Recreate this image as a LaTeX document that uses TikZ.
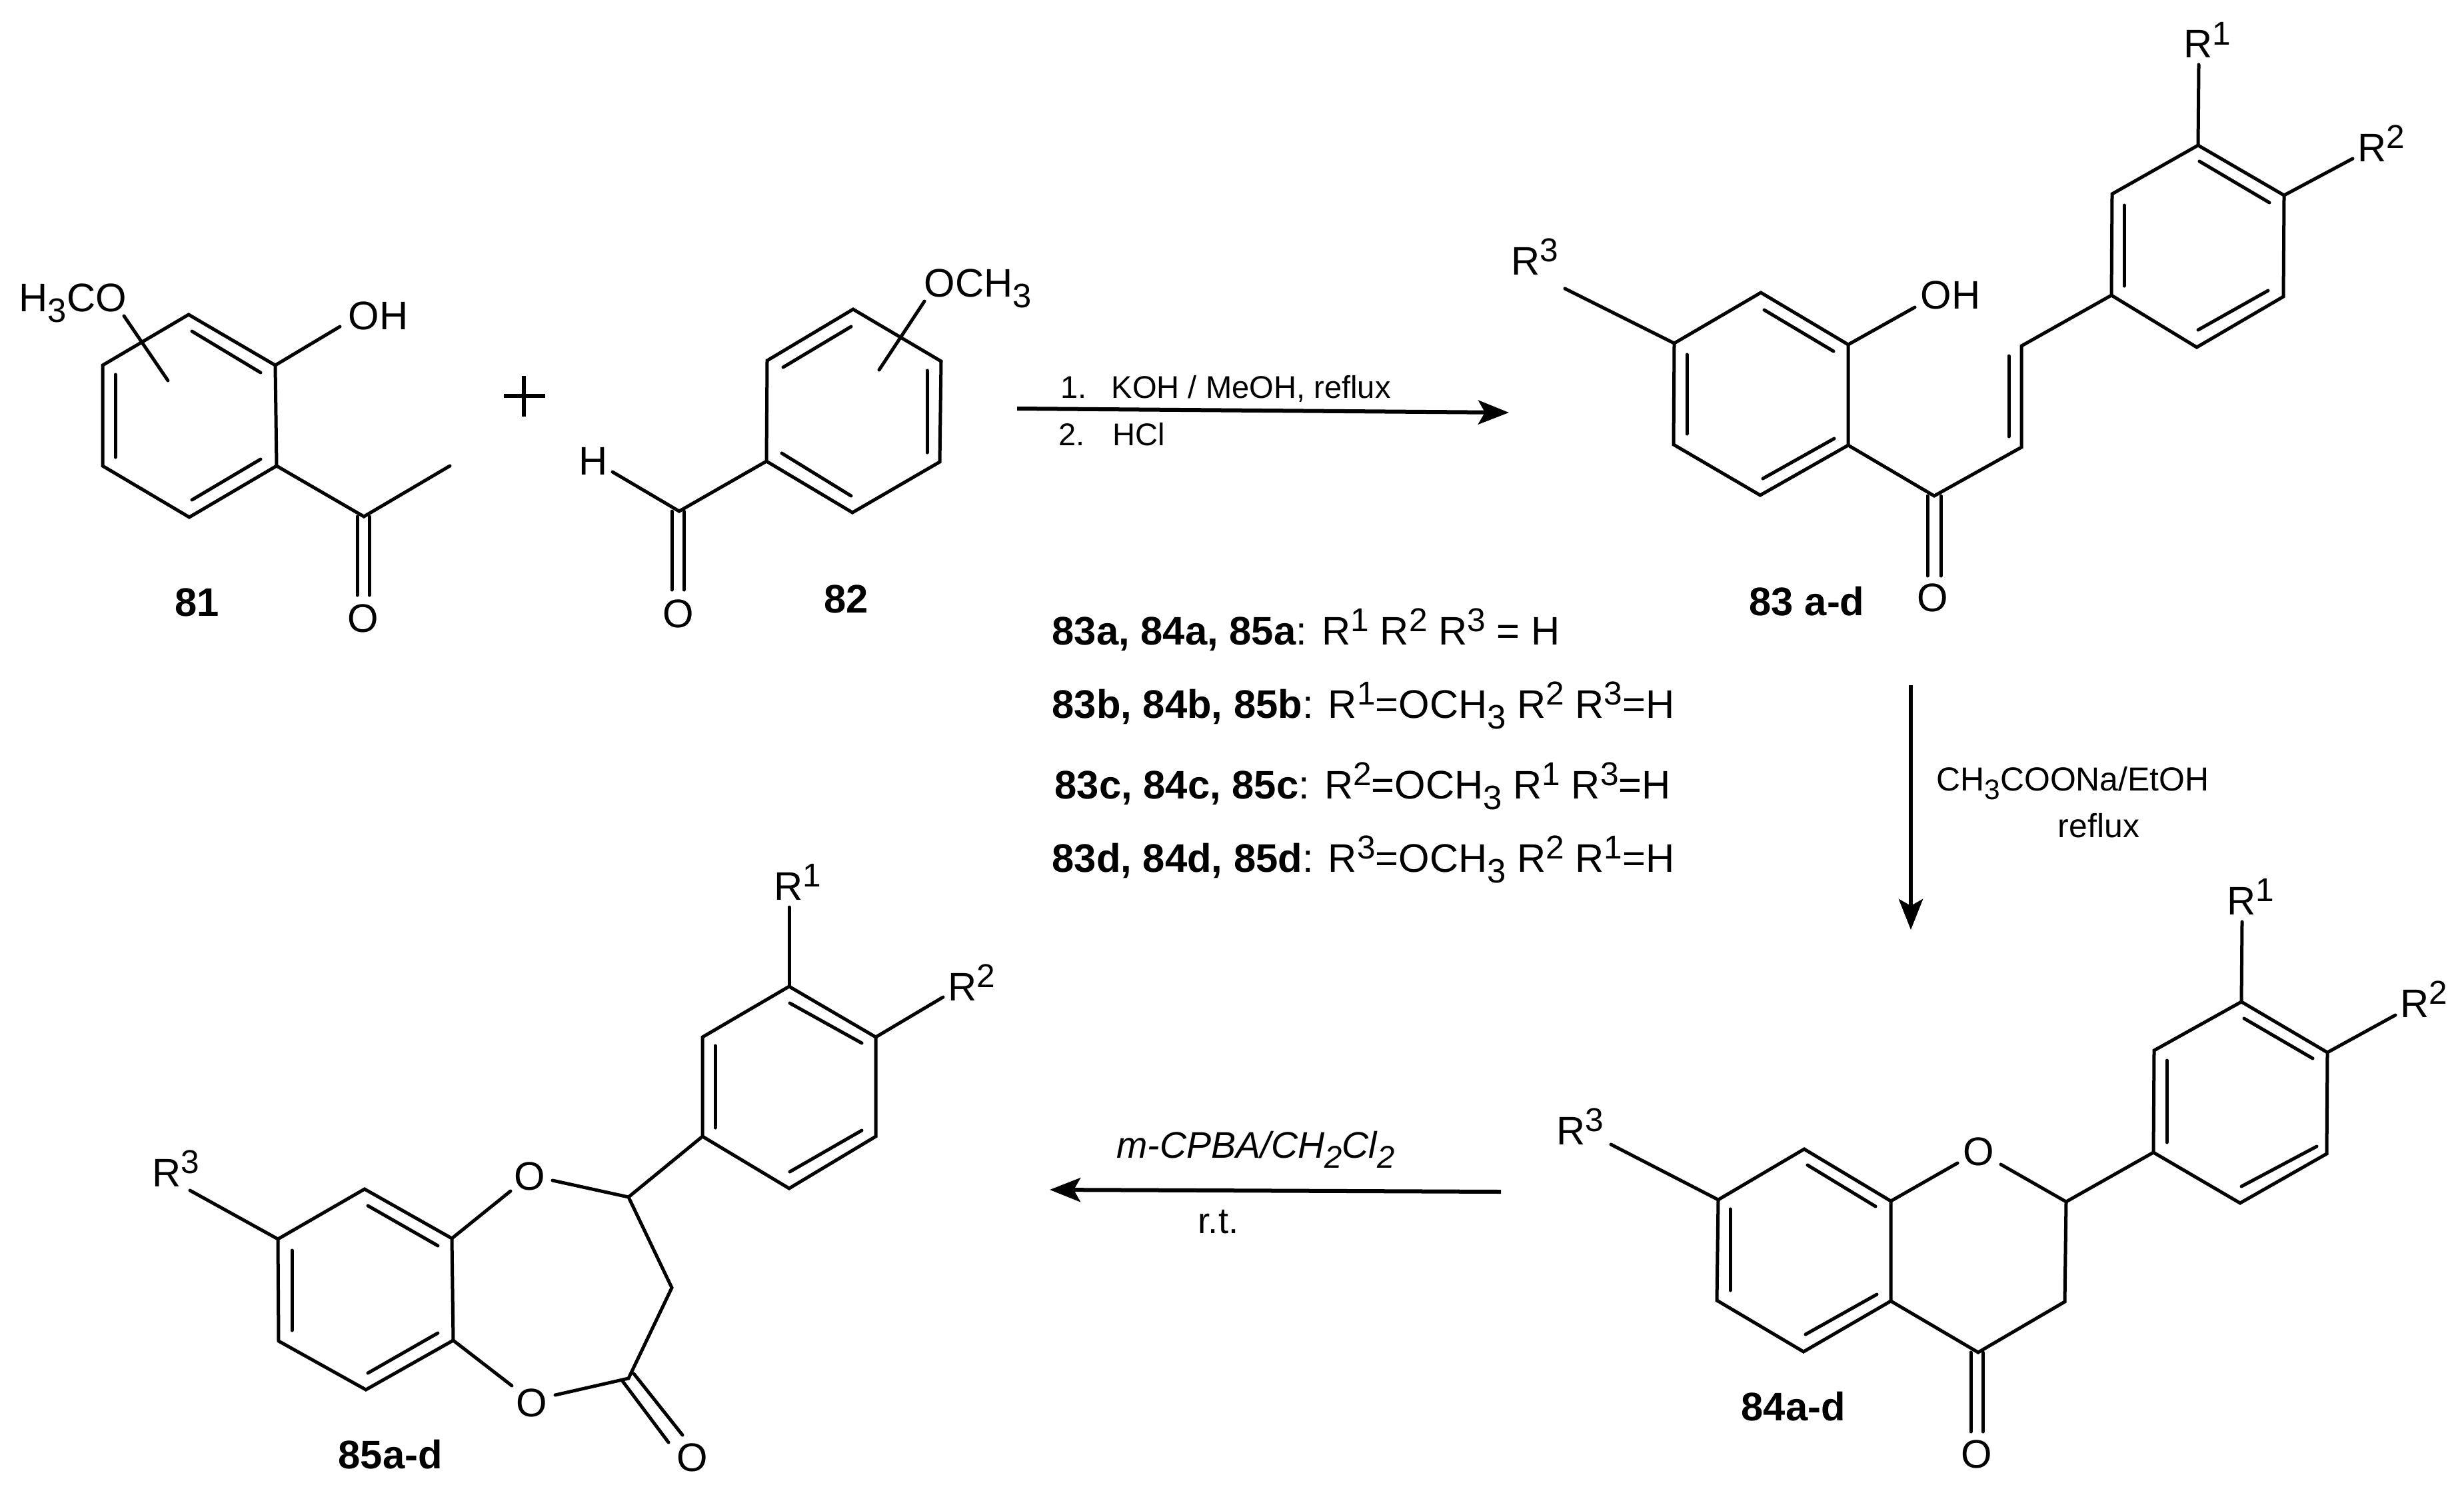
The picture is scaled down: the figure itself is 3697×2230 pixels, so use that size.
\documentclass[tikz,border=0pt]{standalone}
\usepackage{graphicx}
\usepackage{fontspec}
\setmainfont{Liberation Sans}
\usetikzlibrary{arrows.meta}
\newcommand{\Rs}[1]{R\raisebox{.32em}{\scalebox{.83}{#1}}}
\newcommand{\Sb}[1]{\raisebox{-.28em}{\scalebox{.85}{#1}}}
\tikzset{
  bond/.style={line width=.05cm,line cap=round},
  rxnarrow/.style={line width=.06cm,-{Stealth[length=.46cm,width=.36cm,inset=.1cm]}},
  atom/.style={font=\fontsize{17}{17}\selectfont,inner sep=0pt,anchor=base},
  rlabel/.style={atom,anchor=base west},
  tag/.style={font=\fontsize{17}{17}\selectfont\bfseries,inner sep=0pt,anchor=base west},
  reagent/.style={font=\fontsize{13.4}{16}\selectfont,inner sep=0pt,anchor=base west},
  reagentb/.style={font=\fontsize{14.2}{16}\selectfont,inner sep=0pt,anchor=base},
  reagentc/.style={font=\fontsize{15.8}{16}\selectfont\itshape,inner sep=0pt,anchor=base},
  reagentd/.style={font=\fontsize{15.5}{16}\selectfont,inner sep=0pt,anchor=base},
  tableline/.style={font=\fontsize{17}{17}\selectfont,inner sep=0pt,anchor=base west},
}
\begin{document}
\begin{tikzpicture}[x=.01cm,y=-.01cm]
    \useasboundingbox (0,0) rectangle (3697,2230);
    % compound 81
    \coordinate (a1) at (283,472);
    \coordinate (a2) at (413,548);
    \coordinate (a3) at (415,699);
    \coordinate (a4) at (284,776);
    \coordinate (a5) at (154,699);
    \coordinate (a6) at (154,548);
    \coordinate (a7) at (546,775);
    \coordinate (a8) at (675,699);
    \coordinate (a9) at (510,490);
    \coordinate (a10) at (186,474);
    \coordinate (a11) at (252,571);
    \node[rlabel] (oh81) at (522,494) {OH};
    \node[atom] (o81) at (545,948) {O};
    \node[rlabel] (meo81) at (28,467) {H\Sb{3}CO};
    \node[tag] (l81) at (262,924) {81};
    \draw[bond] (a1) -- (a2) -- (a3) -- (a4) -- (a5) -- (a6) -- cycle;
    \draw[bond] (288,497) -- (391,559);
    \draw[bond] (173,562) -- (173,686);
    \draw[bond] (391,689) -- (288,750);
    \draw[bond] (a2) -- (a9);
    \draw[bond] (a3) -- (a7) -- (a8);
    \draw[bond] (536,775) -- (536,893);
    \draw[bond] (554,775) -- (554,893);
    \draw[bond] (a10) -- (a11);
    % plus sign
    \draw[line width=.055cm] (756,594) -- (818,594);
    \draw[line width=.055cm] (786,564) -- (786,625);
    % compound 82
    \coordinate (b1) at (1280,464);
    \coordinate (b2) at (1412,542);
    \coordinate (b3) at (1410,693);
    \coordinate (b4) at (1279,769);
    \coordinate (b5) at (1150,692);
    \coordinate (b6) at (1151,541);
    \coordinate (b7) at (1019,767);
    \coordinate (b8) at (919,708);
    \coordinate (b9) at (1387,452);
    \coordinate (b10) at (1319,555);
    \node[rlabel] (h82) at (868,712) {H};
    \node[atom] (o82) at (1018,941) {O};
    \node[rlabel] (ome82) at (1386,445) {OCH\Sb{3}};
    \node[tag] (l82) at (1236,919) {82};
    \draw[bond] (b1) -- (b2) -- (b3) -- (b4) -- (b5) -- (b6) -- cycle;
    \draw[bond] (1175,551) -- (1277,490);
    \draw[bond] (1391,556) -- (1391,679);
    \draw[bond] (1173,680) -- (1277,744);
    \draw[bond] (b5) -- (b7) -- (b8);
    \draw[bond] (1008,767) -- (1008,885);
    \draw[bond] (1026,767) -- (1026,885);
    \draw[bond] (b9) -- (b10);
    % compound 83
    \coordinate (c1) at (2642,439);
    \coordinate (c2) at (2773,517);
    \coordinate (c3) at (2773,668);
    \coordinate (c4) at (2641,743);
    \coordinate (c5) at (2511,667);
    \coordinate (c6) at (2512,515);
    \coordinate (c7) at (2902,744);
    \coordinate (c8) at (3033,671);
    \coordinate (c9) at (3033,519);
    \coordinate (c10) at (3168,443);
    \coordinate (c11) at (3169,291);
    \coordinate (c12) at (3298,218);
    \coordinate (c13) at (3427,293);
    \coordinate (c14) at (3426,445);
    \coordinate (c15) at (3296,521);
    \coordinate (c16) at (2348,433);
    \coordinate (c17) at (2873,461);
    \coordinate (c18) at (3299,97);
    \coordinate (c19) at (3530,238);
    \node[rlabel] (r3c) at (2267,412) {\Rs{3}};
    \node[rlabel] (ohc) at (2881,463) {OH};
    \node[atom] (oc) at (2900,917) {O};
    \node[rlabel] (r1c) at (3276,87) {\Rs{1}};
    \node[rlabel] (r2c) at (3537,242) {\Rs{2}};
    \node[tag] (l83) at (2624,923) {83 a-d};
    \draw[bond] (c1) -- (c2) -- (c3) -- (c4) -- (c5) -- (c6) -- cycle;
    \draw[bond] (2647,465) -- (2751,527);
    \draw[bond] (2531,532) -- (2531,651);
    \draw[bond] (2645,718) -- (2752,658);
    \draw[bond] (c6) -- (c16);
    \draw[bond] (c2) -- (c17);
    \draw[bond] (c3) -- (c7) -- (c8) -- (c9) -- (c10);
    \draw[bond] (3014,534) -- (3014,655);
    \draw[bond] (2892,744) -- (2892,864);
    \draw[bond] (2912,744) -- (2912,864);
    \draw[bond] (c10) -- (c11) -- (c12) -- (c13) -- (c14) -- (c15) -- cycle;
    \draw[bond] (3187,308) -- (3187,429);
    \draw[bond] (3300,242) -- (3405,304);
    \draw[bond] (3298,495) -- (3403,436);
    \draw[bond] (c12) -- (c18);
    \draw[bond] (c13) -- (c19);
    % compound 84
    \coordinate (d1) at (2707,1724);
    \coordinate (d2) at (2837,1802);
    \coordinate (d3) at (2837,1952);
    \coordinate (d4) at (2706,2028);
    \coordinate (d5) at (2576,1951);
    \coordinate (d6) at (2578,1800);
    \coordinate (d7) at (2937,1745);
    \coordinate (d8) at (3002,1747);
    \coordinate (d9) at (3100,1803);
    \coordinate (d10) at (3098,1953);
    \coordinate (d11) at (2968,2029);
    \coordinate (d12) at (3231,1729);
    \coordinate (d13) at (3232,1576);
    \coordinate (d14) at (3363,1503);
    \coordinate (d15) at (3492,1579);
    \coordinate (d16) at (3491,1731);
    \coordinate (d17) at (3361,1805);
    \coordinate (d18) at (2417,1717);
    \coordinate (d19) at (3364,1383);
    \coordinate (d20) at (3594,1523);
    \node[rlabel] (r3d) at (2335,1717) {\Rs{3}};
    \node[atom] (o1d) at (2969,1748) {O};
    \node[atom] (o2d) at (2966,2202) {O};
    \node[rlabel] (r1d) at (3341,1372) {\Rs{1}};
    \node[rlabel] (r2d) at (3601,1526) {\Rs{2}};
    \node[tag] (l84) at (2612,2131) {84a-d};
    \draw[bond] (d1) -- (d2) -- (d3) -- (d4) -- (d5) -- (d6) -- cycle;
    \draw[bond] (2712,1748) -- (2814,1810);
    \draw[bond] (2596,1814) -- (2596,1936);
    \draw[bond] (2709,2002) -- (2816,1942);
    \draw[bond] (d6) -- (d18);
    \draw[bond] (d2) -- (d7);
    \draw[bond] (d8) -- (d9) -- (d10) -- (d11) -- (d3);
    \draw[bond] (2957,2029) -- (2957,2148);
    \draw[bond] (2975,2029) -- (2975,2148);
    \draw[bond] (d9) -- (d12);
    \draw[bond] (d12) -- (d13) -- (d14) -- (d15) -- (d16) -- (d17) -- cycle;
    \draw[bond] (3251,1591) -- (3251,1714);
    \draw[bond] (3367,1528) -- (3470,1588);
    \draw[bond] (3363,1780) -- (3476,1720);
    \draw[bond] (d14) -- (d19);
    \draw[bond] (d15) -- (d20);
    % compound 85
    \coordinate (e1) at (547,1784);
    \coordinate (e2) at (678,1858);
    \coordinate (e3) at (680,2011);
    \coordinate (e4) at (549,2085);
    \coordinate (e5) at (418,2012);
    \coordinate (e6) at (417,1859);
    \coordinate (e7) at (766,1787);
    \coordinate (e8) at (829,1771);
    \coordinate (e9) at (943,1796);
    \coordinate (e10) at (1008,1932);
    \coordinate (e11) at (943,2068);
    \coordinate (e12) at (833,2093);
    \coordinate (e13) at (768,2079);
    \coordinate (e14) at (1054,1705);
    \coordinate (e15) at (1054,1556);
    \coordinate (e16) at (1184,1480);
    \coordinate (e17) at (1314,1556);
    \coordinate (e18) at (1314,1705);
    \coordinate (e19) at (1184,1783);
    \coordinate (e20) at (285,1786);
    \coordinate (e21) at (1184,1361);
    \coordinate (e22) at (1415,1496);
    \node[rlabel] (r3e) at (228,1780) {\Rs{3}};
    \node[atom] (o1e) at (795,1785) {O};
    \node[atom] (o2e) at (798,2125) {O};
    \node[atom] (o3e) at (1039,2207) {O};
    \node[rlabel] (r1e) at (1161,1350) {\Rs{1}};
    \node[rlabel] (r2e) at (1422,1501) {\Rs{2}};
    \node[tag] (l85) at (507,2203) {85a-d};
    \draw[bond] (e1) -- (e2) -- (e3) -- (e4) -- (e5) -- (e6) -- cycle;
    \draw[bond] (552,1809) -- (657,1869);
    \draw[bond] (438,1876) -- (438,1996);
    \draw[bond] (552,2060) -- (657,2000);
    \draw[bond] (e6) -- (e20);
    \draw[bond] (e2) -- (e7);
    \draw[bond] (e8) -- (e9) -- (e10) -- (e11) -- (e12);
    \draw[bond] (e13) -- (e3);
    \draw[bond] (934,2072) -- (1003,2164);
    \draw[bond] (951,2061) -- (1024,2153);
    \draw[bond] (e9) -- (e14);
    \draw[bond] (e14) -- (e15) -- (e16) -- (e17) -- (e18) -- (e19) -- cycle;
    \draw[bond] (1073,1569) -- (1073,1692);
    \draw[bond] (1185,1505) -- (1293,1565);
    \draw[bond] (1185,1758) -- (1293,1696);
    \draw[bond] (e16) -- (e21);
    \draw[bond] (e17) -- (e22);
    % reaction arrows
    \coordinate (s1) at (1526,613);
    \coordinate (t1) at (2264,619);
    \coordinate (s2) at (2867,1028);
    \coordinate (t2) at (2867,1395);
    \coordinate (s3) at (2252,1788);
    \coordinate (t3) at (1575,1785);
    \draw[rxnarrow] (s1) -- (t1);
    \draw[rxnarrow] (s2) -- (t2);
    \draw[rxnarrow] (s3) -- (t3);
    \node[reagent] (koh) at (1591,597) {\makebox[.76cm][l]{1.}KOH / MeOH, reflux};
    \node[reagent] (hcl) at (1588,668) {\makebox[.81cm][l]{2.}HCl};
    \node[reagentb] (naoac) at (3110,1186) {CH\Sb{3}COONa/EtOH};
    \node[reagentb] (rflx) at (3149,1256) {reflux};
    \node[reagentc] (mcpba) at (1884,1737) {m-CPBA/CH\Sb{2}Cl\Sb{2}};
    \node[reagentd] (rt) at (1828,1850) {r.t.};
    % substituent table
    \node[tableline] (row1) at (1578,967) {\textbf{83a, 84a, 85a}: \Rs{1} \Rs{2} \Rs{3} = H};
    \node[tableline] (row2) at (1578,1077) {\textbf{83b, 84b, 85b}: \Rs{1}=OCH\Sb{3} \Rs{2} \Rs{3}=H};
    \node[tableline] (row3) at (1582,1198) {\textbf{83c, 84c, 85c}: \Rs{2}=OCH\Sb{3} \Rs{1} \Rs{3}=H};
    \node[tableline] (row4) at (1578,1308) {\textbf{83d, 84d, 85d}: \Rs{3}=OCH\Sb{3} \Rs{2} \Rs{1}=H};
\end{tikzpicture}
\end{document}
